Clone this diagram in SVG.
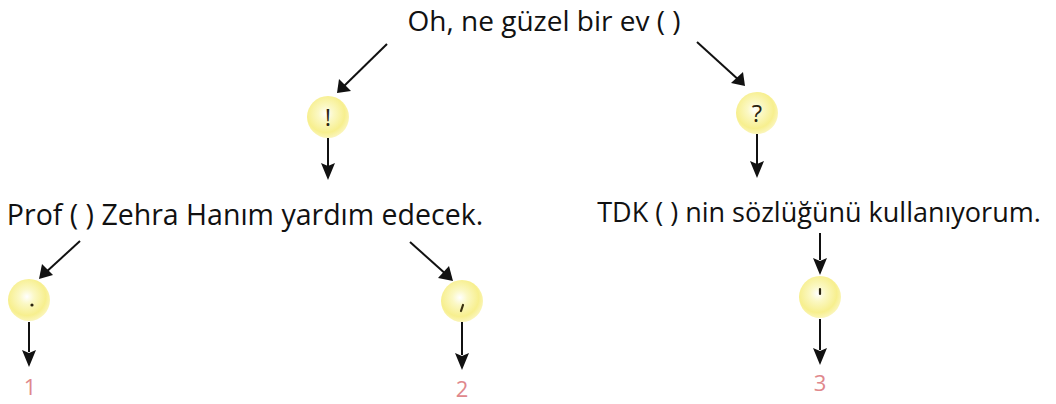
<svg xmlns="http://www.w3.org/2000/svg" width="1056" height="404" viewBox="0 0 1056 404">
<style>
.t{font-family:"Open Sans","Liberation Sans",sans-serif;font-size:28px;fill:#111;text-anchor:middle}
.n{font-family:"Open Sans","Liberation Sans",sans-serif;font-size:22px;fill:#e0888c;text-anchor:middle}
.m{font-family:"Open Sans","Liberation Sans",sans-serif;font-size:24px;fill:#2a2410;text-anchor:middle}
.c{stroke:#111;stroke-width:2;fill:none}
.h{fill:#111}
.g{fill:url(#glow)}
</style>
<defs>
<radialGradient id="glow" cx="0.45" cy="0.42" r="0.6">
<stop offset="0" stop-color="#ffffff"/>
<stop offset="0.3" stop-color="#fbf8c4"/>
<stop offset="0.75" stop-color="#f7ef8e"/>
<stop offset="1" stop-color="#fbf6c0"/>
</radialGradient>
</defs>
<rect width="1056" height="404" fill="#fff"/>
<g id="connectors">
<path class="c" d="M387,44 L341,89"/>
<path class="h" d="M337,93 L339,79 L351,91 Z"/>
<path class="c" d="M697,42 L741,82"/>
<path class="h" d="M745,86 L731,83 L743,72 Z"/>
<path class="c" d="M328,138 L328,166"/>
<path class="h" d="M328,180 L321,163 L328,166 L335,163 Z"/>
<path class="c" d="M757,134 L757,164"/>
<path class="h" d="M757,178 L750,161 L757,164 L764,161 Z"/>
<path class="c" d="M80,241 L44,274"/>
<path class="h" d="M39,279 L42,264 L53,275 Z"/>
<path class="c" d="M410,242 L448,276"/>
<path class="h" d="M453,281 L438,278 L449,266 Z"/>
<path class="c" d="M29,322 L29,352"/>
<path class="h" d="M29,367 L22,350 L29,353 L36,350 Z"/>
<path class="c" d="M462,322 L462,355"/>
<path class="h" d="M462,370 L455,353 L462,356 L469,353 Z"/>
<path class="c" d="M820,233 L820,260"/>
<path class="h" d="M820,275 L813,258 L820,261 L827,258 Z"/>
<path class="c" d="M820,319 L820,350"/>
<path class="h" d="M820,365 L813,348 L820,351 L827,348 Z"/>
</g>
<g id="root"><text class="t" x="544" y="30.5">Oh, ne güzel bir ev ( )</text></g>
<g id="excl"><circle class="g" cx="328" cy="117" r="21"/><text class="m" x="328" y="126">!</text></g>
<g id="quest"><circle class="g" cx="757" cy="113" r="21"/><text class="m" x="757" y="122">?</text></g>
<g id="sent1"><text class="t" x="245" y="225" style="font-size:28.5px">Prof ( ) Zehra Hanım yardım edecek.</text></g>
<g id="sent2"><text class="t" x="819" y="222" style="font-size:27px">TDK ( ) nin sözlüğünü kullanıyorum.</text></g>
<g id="dot"><circle class="g" cx="29" cy="300" r="21"/><circle cx="32" cy="305" r="1.6" fill="#2a2410"/></g>
<g id="comma"><circle class="g" cx="462" cy="301" r="21"/><path d="M463,305 L461,311" stroke="#3a3010" stroke-width="2.2" stroke-linecap="round"/></g>
<g id="apos"><circle class="g" cx="820" cy="297" r="21"/><path d="M820,289 L820,294" stroke="#2a2410" stroke-width="2.2" stroke-linecap="round"/></g>
<g id="n1"><text class="n" x="30" y="395">1</text></g>
<g id="n2"><text class="n" x="462" y="397">2</text></g>
<g id="n3"><text class="n" x="820" y="391">3</text></g>
</svg>
